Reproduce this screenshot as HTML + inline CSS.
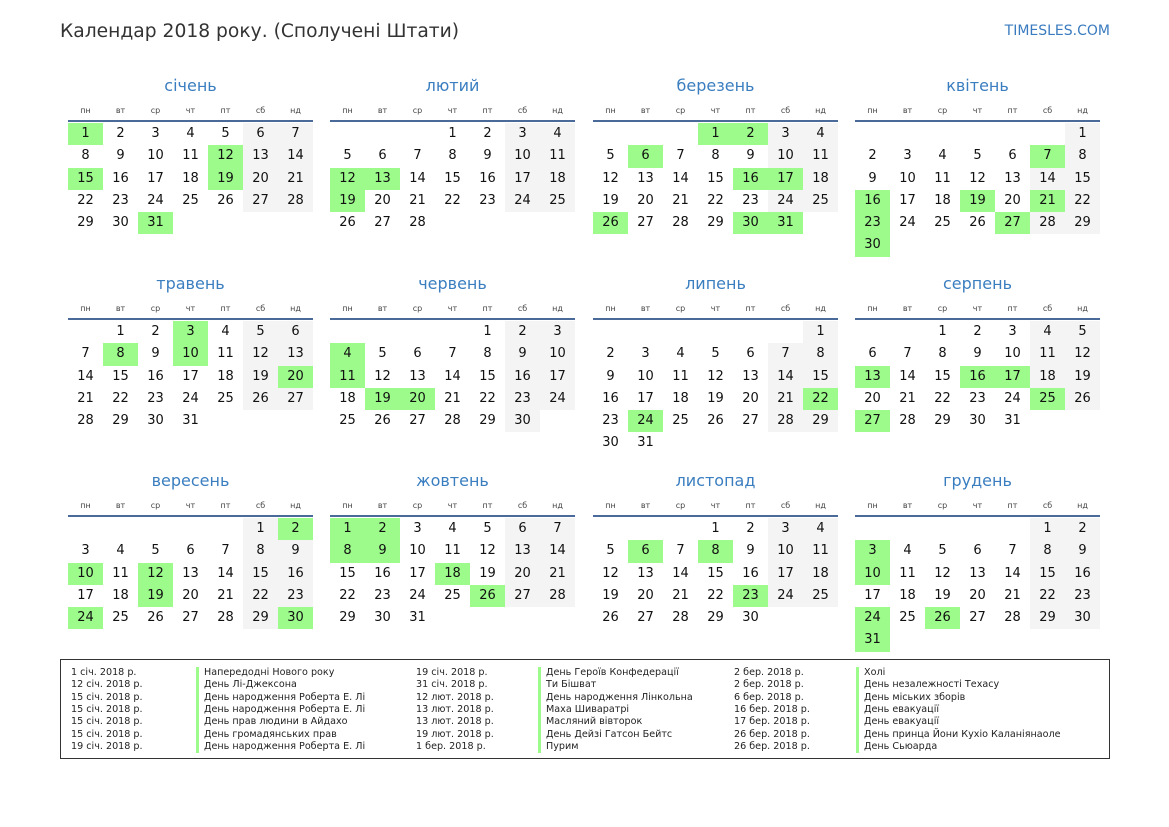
<!DOCTYPE html>
<html><head><meta charset="utf-8"><style>
*{margin:0;padding:0;box-sizing:border-box}
body{width:1169px;height:827px;background:#fff;position:relative;font-family:"DejaVu Sans","Liberation Sans",sans-serif;color:#111;overflow:hidden}
.t{position:absolute;left:60px;top:21px;font-size:18.7px;color:#333}
.s{position:absolute;right:59px;top:23px;font-size:14px;color:#3a7bbf}
.m{position:absolute;width:245px}
.m h2{height:30px;line-height:30px;text-align:center;font-weight:normal;font-size:16px;color:#3a7ec0}
.w{display:grid;grid-template-columns:repeat(7,35px);height:19px;font-size:8px;color:#444;text-align:center;line-height:20px}
.ln{height:2px;background:#4a6a9a;margin-bottom:1px}
.d{display:grid;grid-template-columns:repeat(7,35px);grid-auto-rows:22.3px;font-size:13px;text-align:center;line-height:22.3px}
.d b{font-weight:normal}
.d b:nth-child(7n+6),.d b:nth-child(7n){background:#f4f4f4}
.d b.g{background:#9cfb8b}
.lg{position:absolute;left:60px;top:659px;width:1050px;height:100px;border:1.5px solid #333;font-size:9.6px;color:#222}
.c{position:absolute;top:7px;line-height:12.35px;white-space:nowrap}
.c.n{border-left:3px solid #9cfb8b;padding-left:5px}
</style></head><body>
<div class="t">Календар 2018 року. (Сполучені Штати)</div>
<div class="s">TIMESLES.COM</div>

<div class="m" style="left:68px;top:71px"><h2>січень</h2><div class="w"><span>пн</span><span>вт</span><span>ср</span><span>чт</span><span>пт</span><span>сб</span><span>нд</span></div><div class="ln"></div><div class="d">
<b class="g">1</b><b>2</b><b>3</b><b>4</b><b>5</b><b>6</b><b>7</b><b>8</b><b>9</b><b>10</b><b>11</b><b class="g">12</b><b>13</b><b>14</b><b class="g">15</b><b>16</b><b>17</b><b>18</b><b class="g">19</b><b>20</b><b>21</b><b>22</b><b>23</b><b>24</b><b>25</b><b>26</b><b>27</b><b>28</b><b>29</b><b>30</b><b class="g">31</b></div></div>

<div class="m" style="left:330px;top:71px"><h2>лютий</h2><div class="w"><span>пн</span><span>вт</span><span>ср</span><span>чт</span><span>пт</span><span>сб</span><span>нд</span></div><div class="ln"></div><div class="d">
<i></i><i></i><i></i><b>1</b><b>2</b><b>3</b><b>4</b><b>5</b><b>6</b><b>7</b><b>8</b><b>9</b><b>10</b><b>11</b><b class="g">12</b><b class="g">13</b><b>14</b><b>15</b><b>16</b><b>17</b><b>18</b><b class="g">19</b><b>20</b><b>21</b><b>22</b><b>23</b><b>24</b><b>25</b><b>26</b><b>27</b><b>28</b></div></div>

<div class="m" style="left:593px;top:71px"><h2>березень</h2><div class="w"><span>пн</span><span>вт</span><span>ср</span><span>чт</span><span>пт</span><span>сб</span><span>нд</span></div><div class="ln"></div><div class="d">
<i></i><i></i><i></i><b class="g">1</b><b class="g">2</b><b>3</b><b>4</b><b>5</b><b class="g">6</b><b>7</b><b>8</b><b>9</b><b>10</b><b>11</b><b>12</b><b>13</b><b>14</b><b>15</b><b class="g">16</b><b class="g">17</b><b>18</b><b>19</b><b>20</b><b>21</b><b>22</b><b>23</b><b>24</b><b>25</b><b class="g">26</b><b>27</b><b>28</b><b>29</b><b class="g">30</b><b class="g">31</b></div></div>

<div class="m" style="left:855px;top:71px"><h2>квітень</h2><div class="w"><span>пн</span><span>вт</span><span>ср</span><span>чт</span><span>пт</span><span>сб</span><span>нд</span></div><div class="ln"></div><div class="d">
<i></i><i></i><i></i><i></i><i></i><i></i><b>1</b><b>2</b><b>3</b><b>4</b><b>5</b><b>6</b><b class="g">7</b><b>8</b><b>9</b><b>10</b><b>11</b><b>12</b><b>13</b><b>14</b><b>15</b><b class="g">16</b><b>17</b><b>18</b><b class="g">19</b><b>20</b><b class="g">21</b><b>22</b><b class="g">23</b><b>24</b><b>25</b><b>26</b><b class="g">27</b><b>28</b><b>29</b><b class="g">30</b></div></div>

<div class="m" style="left:68px;top:269px"><h2>травень</h2><div class="w"><span>пн</span><span>вт</span><span>ср</span><span>чт</span><span>пт</span><span>сб</span><span>нд</span></div><div class="ln"></div><div class="d">
<i></i><b>1</b><b>2</b><b class="g">3</b><b>4</b><b>5</b><b>6</b><b>7</b><b class="g">8</b><b>9</b><b class="g">10</b><b>11</b><b>12</b><b>13</b><b>14</b><b>15</b><b>16</b><b>17</b><b>18</b><b>19</b><b class="g">20</b><b>21</b><b>22</b><b>23</b><b>24</b><b>25</b><b>26</b><b>27</b><b>28</b><b>29</b><b>30</b><b>31</b></div></div>

<div class="m" style="left:330px;top:269px"><h2>червень</h2><div class="w"><span>пн</span><span>вт</span><span>ср</span><span>чт</span><span>пт</span><span>сб</span><span>нд</span></div><div class="ln"></div><div class="d">
<i></i><i></i><i></i><i></i><b>1</b><b>2</b><b>3</b><b class="g">4</b><b>5</b><b>6</b><b>7</b><b>8</b><b>9</b><b>10</b><b class="g">11</b><b>12</b><b>13</b><b>14</b><b>15</b><b>16</b><b>17</b><b>18</b><b class="g">19</b><b class="g">20</b><b>21</b><b>22</b><b>23</b><b>24</b><b>25</b><b>26</b><b>27</b><b>28</b><b>29</b><b>30</b></div></div>

<div class="m" style="left:593px;top:269px"><h2>липень</h2><div class="w"><span>пн</span><span>вт</span><span>ср</span><span>чт</span><span>пт</span><span>сб</span><span>нд</span></div><div class="ln"></div><div class="d">
<i></i><i></i><i></i><i></i><i></i><i></i><b>1</b><b>2</b><b>3</b><b>4</b><b>5</b><b>6</b><b>7</b><b>8</b><b>9</b><b>10</b><b>11</b><b>12</b><b>13</b><b>14</b><b>15</b><b>16</b><b>17</b><b>18</b><b>19</b><b>20</b><b>21</b><b class="g">22</b><b>23</b><b class="g">24</b><b>25</b><b>26</b><b>27</b><b>28</b><b>29</b><b>30</b><b>31</b></div></div>

<div class="m" style="left:855px;top:269px"><h2>серпень</h2><div class="w"><span>пн</span><span>вт</span><span>ср</span><span>чт</span><span>пт</span><span>сб</span><span>нд</span></div><div class="ln"></div><div class="d">
<i></i><i></i><b>1</b><b>2</b><b>3</b><b>4</b><b>5</b><b>6</b><b>7</b><b>8</b><b>9</b><b>10</b><b>11</b><b>12</b><b class="g">13</b><b>14</b><b>15</b><b class="g">16</b><b class="g">17</b><b>18</b><b>19</b><b>20</b><b>21</b><b>22</b><b>23</b><b>24</b><b class="g">25</b><b>26</b><b class="g">27</b><b>28</b><b>29</b><b>30</b><b>31</b></div></div>

<div class="m" style="left:68px;top:466px"><h2>вересень</h2><div class="w"><span>пн</span><span>вт</span><span>ср</span><span>чт</span><span>пт</span><span>сб</span><span>нд</span></div><div class="ln"></div><div class="d">
<i></i><i></i><i></i><i></i><i></i><b>1</b><b class="g">2</b><b>3</b><b>4</b><b>5</b><b>6</b><b>7</b><b>8</b><b>9</b><b class="g">10</b><b>11</b><b class="g">12</b><b>13</b><b>14</b><b>15</b><b>16</b><b>17</b><b>18</b><b class="g">19</b><b>20</b><b>21</b><b>22</b><b>23</b><b class="g">24</b><b>25</b><b>26</b><b>27</b><b>28</b><b>29</b><b class="g">30</b></div></div>

<div class="m" style="left:330px;top:466px"><h2>жовтень</h2><div class="w"><span>пн</span><span>вт</span><span>ср</span><span>чт</span><span>пт</span><span>сб</span><span>нд</span></div><div class="ln"></div><div class="d">
<b class="g">1</b><b class="g">2</b><b>3</b><b>4</b><b>5</b><b>6</b><b>7</b><b class="g">8</b><b class="g">9</b><b>10</b><b>11</b><b>12</b><b>13</b><b>14</b><b>15</b><b>16</b><b>17</b><b class="g">18</b><b>19</b><b>20</b><b>21</b><b>22</b><b>23</b><b>24</b><b>25</b><b class="g">26</b><b>27</b><b>28</b><b>29</b><b>30</b><b>31</b></div></div>

<div class="m" style="left:593px;top:466px"><h2>листопад</h2><div class="w"><span>пн</span><span>вт</span><span>ср</span><span>чт</span><span>пт</span><span>сб</span><span>нд</span></div><div class="ln"></div><div class="d">
<i></i><i></i><i></i><b>1</b><b>2</b><b>3</b><b>4</b><b>5</b><b class="g">6</b><b>7</b><b class="g">8</b><b>9</b><b>10</b><b>11</b><b>12</b><b>13</b><b>14</b><b>15</b><b>16</b><b>17</b><b>18</b><b>19</b><b>20</b><b>21</b><b>22</b><b class="g">23</b><b>24</b><b>25</b><b>26</b><b>27</b><b>28</b><b>29</b><b>30</b></div></div>

<div class="m" style="left:855px;top:466px"><h2>грудень</h2><div class="w"><span>пн</span><span>вт</span><span>ср</span><span>чт</span><span>пт</span><span>сб</span><span>нд</span></div><div class="ln"></div><div class="d">
<i></i><i></i><i></i><i></i><i></i><b>1</b><b>2</b><b class="g">3</b><b>4</b><b>5</b><b>6</b><b>7</b><b>8</b><b>9</b><b class="g">10</b><b>11</b><b>12</b><b>13</b><b>14</b><b>15</b><b>16</b><b>17</b><b>18</b><b>19</b><b>20</b><b>21</b><b>22</b><b>23</b><b class="g">24</b><b>25</b><b class="g">26</b><b>27</b><b>28</b><b>29</b><b>30</b><b class="g">31</b></div></div>

<div class="lg">
<div class="c" style="left:10px">1 січ. 2018 р.<br>12 січ. 2018 р.<br>15 січ. 2018 р.<br>15 січ. 2018 р.<br>15 січ. 2018 р.<br>15 січ. 2018 р.<br>19 січ. 2018 р.</div>
<div class="c n" style="left:135px">Напередодні Нового року<br>День Лі-Джексона<br>День народження Роберта Е. Лі<br>День народження Роберта Е. Лі<br>День прав людини в Айдахо<br>День громадянських прав<br>День народження Роберта Е. Лі</div>
<div class="c" style="left:355px">19 січ. 2018 р.<br>31 січ. 2018 р.<br>12 лют. 2018 р.<br>13 лют. 2018 р.<br>13 лют. 2018 р.<br>19 лют. 2018 р.<br>1 бер. 2018 р.</div>
<div class="c n" style="left:477px">День Героїв Конфедерації<br>Ти Бішват<br>День народження Лінкольна<br>Маха Шиваратрі<br>Масляний вівторок<br>День Дейзі Гатсон Бейтс<br>Пурим</div>
<div class="c" style="left:673px">2 бер. 2018 р.<br>2 бер. 2018 р.<br>6 бер. 2018 р.<br>16 бер. 2018 р.<br>17 бер. 2018 р.<br>26 бер. 2018 р.<br>26 бер. 2018 р.</div>
<div class="c n" style="left:795px">Холі<br>День незалежності Техасу<br>День міських зборів<br>День евакуації<br>День евакуації<br>День принца Йони Кухіо Каланіянаоле<br>День Сьюарда</div>
</div>
</body></html>
